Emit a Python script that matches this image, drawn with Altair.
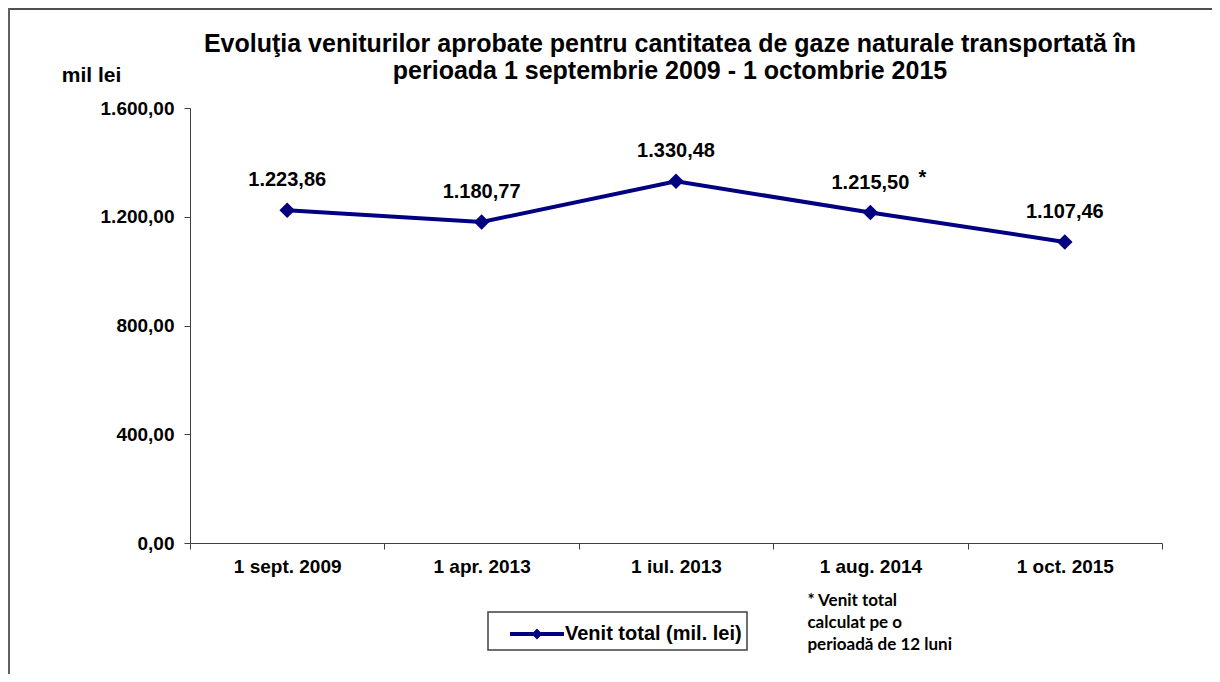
import altair as alt
import pandas as pd

categories = ["1 sept. 2009", "1 apr. 2013", "1 iul. 2013", "1 aug. 2014", "1 oct. 2015"]
values = [1223.86, 1180.77, 1330.48, 1215.50, 1107.46]
value_labels = ["1.223,86", "1.180,77", "1.330,48", "1.215,50", "1.107,46"]
notes = ["", "", "", "*", ""]
series_name = "Venit total (mil. lei)"
y_ticks = [0, 400, 800, 1200, 1600]
footnote_category = "1 aug. 2014"
footnote_lines = ["* Venit total", "calculat pe o", "perioadă de 12 luni"]
title_lines = [
    "Evoluţia veniturilor aprobate pentru cantitatea de gaze naturale transportată în",
    "perioada 1 septembrie 2009 - 1 octombrie 2015",
]

NAVY = "#000080"
FONT = "Liberation Sans"

df = pd.DataFrame({
    "cat": categories,
    "val": values,
    "lbl": value_labels,
    "note": notes,
    "series": [series_name] * len(categories),
})

x_enc = alt.X(
    "cat:N",
    sort=categories,
    scale=alt.Scale(paddingInner=0, paddingOuter=0),
    axis=alt.Axis(
        title=None, labelAngle=0, tickBand="extent", tickSize=6,
        labelPadding=8, labelFontSize=19, labelFontWeight="bold",
        labelColor="#000000", domainColor="#404040", tickColor="#404040",
        labelFont=FONT, grid=False,
    ),
)
y_enc = alt.Y(
    "val:Q",
    scale=alt.Scale(domain=[0, 1600], nice=False),
    axis=alt.Axis(
        values=y_ticks, grid=False, tickSize=6, labelPadding=10,
        labelFontSize=19, labelFontWeight="bold", labelColor="#000000",
        labelFont=FONT, domainColor="#404040", tickColor="#404040",
        labelExpr="replace(replace(replace(format(datum.value, ',.2f'), ',', '#'), '.', ','), '#', '.')",
        title="mil lei", titleAngle=0, titleX=-99, titleY=-33,
        titleAlign="center", titleBaseline="middle", titleFontSize=21,
        titleFontWeight="bold", titleColor="#000000", titleFont=FONT,
    ),
)
color_enc = alt.Color(
    "series:N",
    scale=alt.Scale(range=[NAVY]),
    legend=alt.Legend(
        title=None, orient="none", legendX=298, legendY=504,
        symbolType="M-1.8,0L1.8,0M0,-0.17L0.17,0L0,0.17L-0.17,0Z",
        symbolSize=900, symbolStrokeWidth=4, symbolStrokeColor=NAVY,
        symbolFillColor=NAVY, symbolOffset=27, labelOffset=11,
        labelFontSize=20, labelFontWeight="bold", labelColor="#000000",
        labelFont=FONT, labelLimit=400, padding=5, strokeColor="#404040",
    ),
)

base = alt.Chart(df)

line = base.mark_line(strokeWidth=4).encode(x=x_enc, y=y_enc, color=color_enc)
points = base.mark_point(shape="diamond", filled=True, size=240, opacity=1).encode(
    x=x_enc, y=y_enc, color=color_enc
)
labels = base.mark_text(
    dy=-30, fontSize=20, fontWeight="bold", font=FONT, color="#000000", baseline="middle"
).encode(x=x_enc, y=y_enc, text="lbl:N")
stars = base.mark_text(
    dx=52, dy=-35, fontSize=20, fontWeight="bold", font=FONT, color="#000000", baseline="middle"
).encode(x=x_enc, y=y_enc, text="note:N")

foot_df = pd.DataFrame({"cat": [footnote_category], "txt": ["\n".join(footnote_lines)]})
footnote = alt.Chart(foot_df).mark_text(
    align="left", baseline="top", dx=-63, fontSize=17, fontWeight="bold",
    font="Lato", color="#000000", lineBreak="\n", lineHeight=22,
).encode(x=alt.X("cat:N", sort=categories, scale=alt.Scale(paddingInner=0, paddingOuter=0)),
         y=alt.value(485), text="txt:N")

frame_df = pd.DataFrame({"k": [0]})
frame_top = alt.Chart(frame_df).mark_rule(color="#505050", strokeWidth=2).encode(
    x=alt.value(-182), x2=alt.value(1022), y=alt.value(-99)
)
frame_left = alt.Chart(frame_df).mark_rule(color="#606060", strokeWidth=2).encode(
    x=alt.value(-181), y=alt.value(-100), y2=alt.value(566)
)

chart = alt.layer(line, points, labels, stars, footnote, frame_top, frame_left).properties(
    width=972,
    height=435,
    padding={"left": 182, "top": 100, "right": 50, "bottom": 131},
    autosize=alt.AutoSizeParams(type="none"),
    title=alt.Title(
        text=title_lines, fontSize=25, fontWeight="bold", font=FONT, color="#000000",
        anchor="middle", dx=-6, offset=0, dy=77, lineHeight=27,
    ),
).configure_view(stroke=None).configure_legend(strokeWidth=1.5)

chart.save("out.html", embed_options={"renderer": "svg", "actions": False})
